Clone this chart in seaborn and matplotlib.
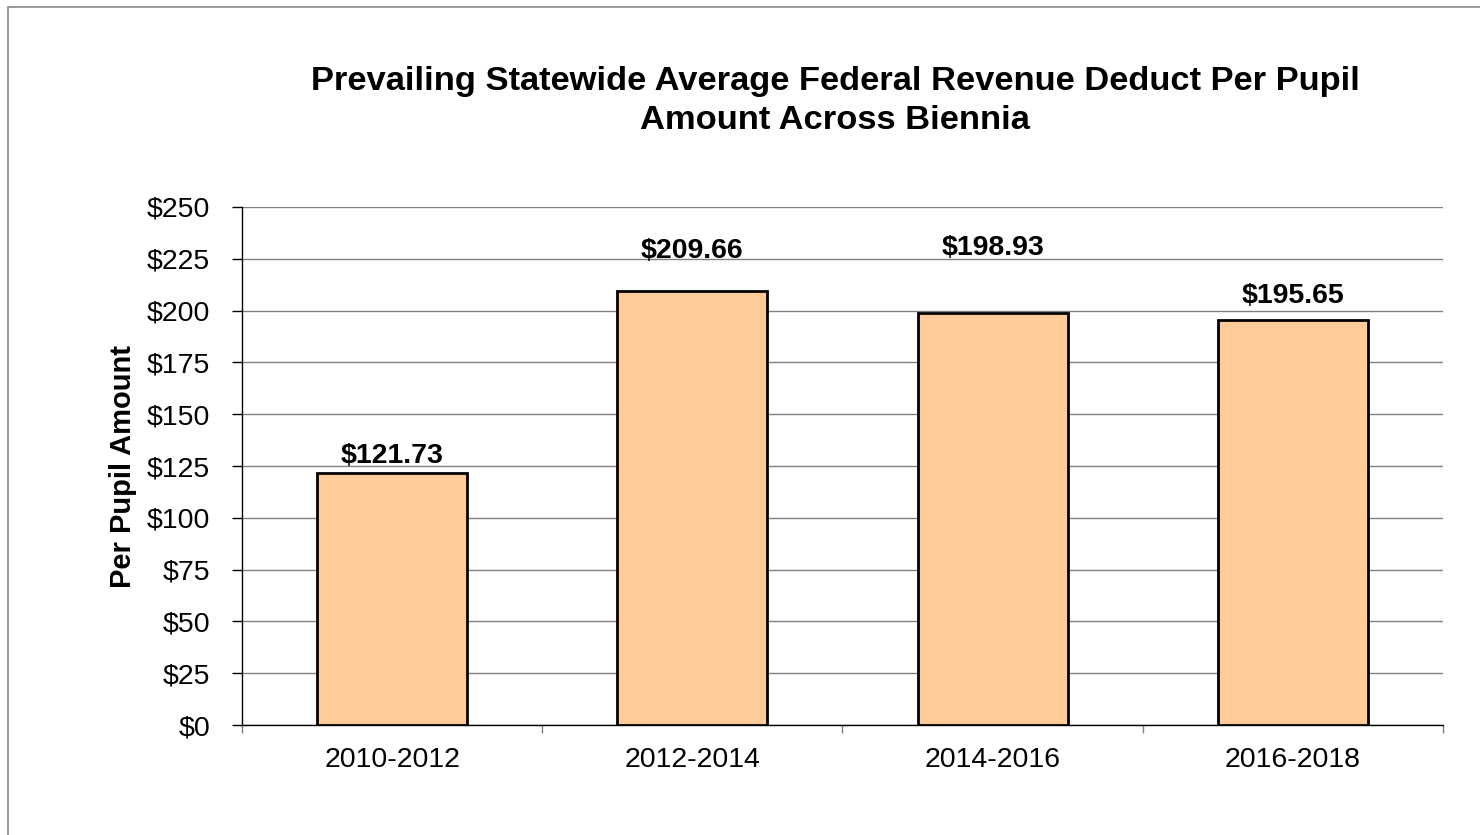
"""
Prevailing statewide average federal revenue deduct per pupil, by biennium.
Saves: out.png
"""
import matplotlib.pyplot as plt
import pandas as pd
import seaborn as sns
from matplotlib.patches import Rectangle
from matplotlib.ticker import FuncFormatter, MultipleLocator

bienniums = ["2010-2012", "2012-2014", "2014-2016", "2016-2018"]
per_pupil = [121.73, 209.66, 198.93, 195.65]
value_labels = ["$121.73", "$209.66", "$198.93", "$195.65"]

# label gap above each bar (points), as placed in the original
label_gap_pt = [3, 19, 37, 8]

BAR_COLOR = "#FFCC99"
GRID_COLOR = "#808080"

sns.set_theme(style="white")
plt.rcParams["font.family"] = ["Liberation Sans", "DejaVu Sans"]
plt.rcParams["text.color"] = "black"
plt.rcParams["axes.labelcolor"] = "black"
plt.rcParams["xtick.color"] = "black"
plt.rcParams["ytick.color"] = "black"

df = pd.DataFrame({"biennium": bienniums, "amount": per_pupil})

fig = plt.figure(figsize=(14.8, 8.35), dpi=100)
ax = fig.add_axes([0.1635, 0.1317, 0.8115, 0.6204])

sns.barplot(
    data=df, x="biennium", y="amount", color=BAR_COLOR,
    edgecolor="black", linewidth=2, width=0.5, saturation=1, ax=ax, zorder=3,
)

ax.set_ylim(0, 250)
ax.set_xlim(-0.5, len(bienniums) - 0.5)
ax.yaxis.set_major_locator(MultipleLocator(25))
ax.yaxis.set_major_formatter(FuncFormatter(lambda v, _: f"${v:.0f}"))
ax.grid(axis="y", color=GRID_COLOR, linewidth=1, zorder=0)
ax.set_axisbelow(True)

for side in ["top", "right"]:
    ax.spines[side].set_visible(False)
for side in ["left", "bottom"]:
    ax.spines[side].set_color("black")
    ax.spines[side].set_linewidth(1)

ax.tick_params(axis="y", which="major", direction="out", length=7, width=1,
               color="black", left=True, labelsize=20.5, pad=16)
ax.tick_params(axis="x", which="major", length=0, labelsize=20.5, pad=16)
ax.set_xticks([i - 0.5 for i in range(len(bienniums) + 1)], minor=True)
ax.tick_params(axis="x", which="minor", direction="out", length=6, width=1,
               color="#808080", bottom=True)

ax.set_xlabel("")
ax.set_ylabel("Per Pupil Amount", fontsize=21, fontweight="bold", labelpad=7)

for i, (val, txt, gap) in enumerate(zip(per_pupil, value_labels, label_gap_pt)):
    ax.annotate(txt, xy=(i, val), xytext=(0, gap), textcoords="offset points",
                ha="center", va="bottom", fontsize=20.5, fontweight="bold")

fig.text(835 / 1480, 1 - 66 / 835,
         "Prevailing Statewide Average Federal Revenue Deduct Per Pupil\nAmount Across Biennia",
         ha="center", va="top", fontsize=24.8, fontweight="bold", linespacing=1.33)

# outer chart-area frame, running off the right and bottom edges
fig.patches.append(Rectangle((8 / 1480, -0.1), 1.2, 1 - 7 / 835 + 0.1,
                             transform=fig.transFigure, fill=False,
                             edgecolor="#888888", linewidth=1.2))

plt.savefig("out.png", dpi=100)
plt.close()
